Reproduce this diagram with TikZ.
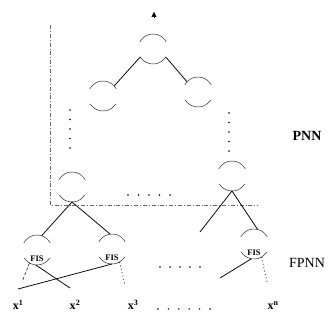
\documentclass[tikz,border=0pt]{standalone}
\usepackage{fontspec}
\setmainfont{Liberation Serif}
\usetikzlibrary{arrows.meta}
\begin{document}
\begin{tikzpicture}[x=1pt,y=1pt,
  unit/.style={circle, minimum size=30pt, inner sep=0pt, outer sep=0pt},
  arcline/.style={line width=0.5pt, black!85},
  link/.style={line width=0.75pt},
  frame/.style={line width=0.45pt, black!60, dash pattern=on 4pt off 2pt on 0.8pt off 2pt},
  dotline/.style={line width=0.6pt, dash pattern=on 1pt off 2.5pt},
  fis/.style={font=\bfseries\fontsize{8.5}{8.5}\selectfont, inner sep=0pt},
  side/.style={font=\fontsize{14}{14}\selectfont, inner sep=0pt},
  inlabel/.style={font=\bfseries\fontsize{12}{12}\selectfont, inner sep=0pt, anchor=base},
  dot/.style={radius=0.8pt}]
  \useasboundingbox (0,0) rectangle (330,-320);

  % network units (drawn as broken circles)
  \node[unit] (T)  at (153,-49)  {};
  \node[unit] (L1) at (103,-96)  {};
  \node[unit] (R1) at (198,-92)  {};
  \node[unit] (L2) at (72,-187)  {};
  \node[unit] (R2) at (232,-176) {};
  \node[unit] (F1) at (37,-250)  {};
  \node[unit] (F2) at (112,-249) {};
  \node[unit] (F3) at (254,-244) {};
  \foreach \n in {T,L1,R1,L2,R2,F1,F2,F3} {
    \draw[arcline] (\n.28) arc[start angle=28, end angle=152, radius=15pt];
    \draw[arcline] (\n.212) arc[start angle=212, end angle=328, radius=15pt];
  }
  \node[fis] (F1t) at ([yshift=-9pt]F1.center) {FIS};
  \node[fis] (F2t) at ([yshift=-9pt]F2.center) {FIS};
  \node[fis] (F3t) at ([yshift=-9pt]F3.center) {FIS};

  % output arrow
  \coordinate (out0) at (154,-18);
  \coordinate (out1) at (154,-12);
  \draw[-{Triangle[length=5pt,width=5pt]}, line width=0.6pt] (out0) -- (out1);

  % PNN region frame
  \draw[frame] (50,-25) -- (50,-205) -- (258,-205);

  % connectors
  \draw[link] (T.212) -- (L1.42);
  \draw[link] (T.328) -- (R1.137);
  \draw[link] (L2.270) -- (F1.72);
  \draw[link] (L2.270) -- (F2.97);
  \coordinate (r2free) at (200,-232);
  \draw[link] (R2.270) -- (r2free);
  \draw[link] (R2.270) -- (F3.76);

  % lines below the FIS units
  \coordinate (e1) at (70,-288);
  \coordinate (e2) at (18,-289);
  \coordinate (e3) at (22,-282);
  \coordinate (e4) at (125,-285);
  \coordinate (e5) at (220,-278);
  \coordinate (e6) at (267,-282);
  \draw[link] (F1.265) -- (e1);
  \draw[link] (F2.270) -- (e2);
  \draw[line width=0.5pt, dash pattern=on 3pt off 2pt] (F1.240) -- (e3);
  \draw[dotline] (F2.300) -- (e4);
  \draw[link] (F3.260) -- (e5);
  \draw[dotline] (F3.300) -- (e6);

  % ellipsis dots
  \foreach \i in {0,...,4} {
    \fill (70,{-110-9.5*\i}) circle[dot];
    \fill (229,{-113-9.5*\i}) circle[dot];
    \fill ({128+10.5*\i},-195) circle[dot];
    \fill ({160+10*\i},-267) circle[dot];
  }
  \foreach \i in {0,...,5} {
    \fill ({158+10.4*\i},-309) circle[dot];
  }

  % side labels
  \node[side, font=\bfseries\fontsize{14}{14}\selectfont] (pnn) at (307,-136) {PNN};
  \node[side] (fpnn) at (307,-263) {FPNN};

  % inputs
  \node[inlabel] (x1) at (18,-310) {x\textsuperscript{1}};
  \node[inlabel] (x2) at (75,-310) {x\textsuperscript{2}};
  \node[inlabel] (x3) at (133,-310) {x\textsuperscript{3}};
  \node[inlabel] (xn) at (273,-310) {x\textsuperscript{n}};
\end{tikzpicture}
\end{document}
